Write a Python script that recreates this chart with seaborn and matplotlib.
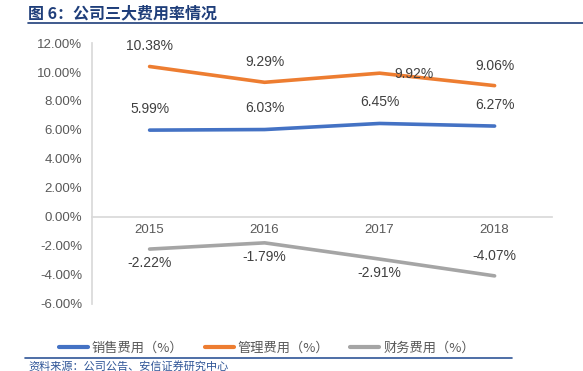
import pandas as pd
import matplotlib
matplotlib.use("Agg")
import matplotlib.pyplot as plt
import seaborn as sns

# chart values
years = ["2015", "2016", "2017", "2018"]
sales = [5.99, 6.03, 6.45, 6.27]
admin = [10.38, 9.29, 9.92, 9.06]
finance = [-2.22, -1.79, -2.91, -4.07]
series_names = ["销售费用（%）", "管理费用（%）", "财务费用（%）"]
colors = ["#4472C4", "#ED7D31", "#A5A5A5"]
title = "图 6：公司三大费用率情况"
source = "资料来源：公司公告、安信证券研究中心"

sns.set_theme(style="white")
plt.rcParams['font.family'] = ['Liberation Sans', 'Noto Sans CJK SC', 'DejaVu Sans']

df = pd.DataFrame({"year": years * 3,
                   "value": sales + admin + finance,
                   "series": [s for s in series_names for _ in years]})

fig = plt.figure(figsize=(5.83, 3.71), dpi=100)
ax = fig.add_axes([0.158, 0.181, 0.789, 0.703])

sns.lineplot(data=df, x="year", y="value", hue="series", palette=colors,
             linewidth=2.6, ax=ax, sort=False, legend=True)

ax.set_ylim(-6, 12)
ax.set_xlim(-0.5, 3.5)
ax.set_yticks(range(-6, 13, 2))
ax.set_yticklabels([f"{v:.2f}%" for v in range(-6, 13, 2)], color="#595959", fontsize=9.5)
ax.tick_params(axis="y", length=4, color="#D9D9D9", width=0.8, pad=3)
ax.tick_params(axis="x", length=0, colors="#595959", labelsize=9.5, pad=5)
ax.set_xlabel("")
ax.set_ylabel("")
for s in ["top", "right"]:
    ax.spines[s].set_visible(False)
ax.spines["left"].set_color("#D9D9D9")
ax.spines["bottom"].set_color("#D9D9D9")
ax.spines["bottom"].set_position(("data", 0))

# data labels
lab = dict(ha="center", fontsize=10, color="#404040")
for i, v in enumerate(sales):
    ax.text(i, v + 1.0, f"{v:.2f}%", va="bottom", **lab)
for i, v in enumerate(admin):
    if i == 2:
        ax.text(i + 0.3, v - 0.05, f"{v:.2f}%", va="center", **lab)
    else:
        ax.text(i, v + 0.9, f"{v:.2f}%", va="bottom", **lab)
for i, v in enumerate(finance):
    if i == 3:
        ax.text(i, v + 0.9, f"{v:.2f}%", va="bottom", **lab)
    else:
        ax.text(i, v - 0.5, f"{v:.2f}%", va="top", **lab)

handles, labels = ax.get_legend_handles_labels()
ax.legend(handles, labels, loc="center", bbox_to_anchor=(0.38, -0.17), ncol=3,
          frameon=False, handlelength=2.2, handletextpad=0.3, columnspacing=1.6,
          labelcolor="#595959",
          prop={"family": ["Noto Sans CJK SC"], "size": 9.5})
for line in ax.get_legend().get_lines():
    line.set_linewidth(3)

# title and source
fig.text(0.048, 0.965, title, fontsize=11.5, fontweight="bold", color="#1F3E7A",
         va="center", family=["Noto Sans CJK SC", "DejaVu Sans"])
fig.add_artist(plt.Line2D([0.048, 1.0], [0.938, 0.938], color="#1F3E7A", linewidth=1.2))
fig.add_artist(plt.Line2D([0.043, 0.878], [0.035, 0.035], color="#2F5597", linewidth=1.2))
fig.text(0.048, 0.012, source, fontsize=8, color="#2F5597", style="italic",
         va="center", family=["Noto Sans CJK SC", "DejaVu Sans"])

fig.savefig("out.png", dpi=100)
